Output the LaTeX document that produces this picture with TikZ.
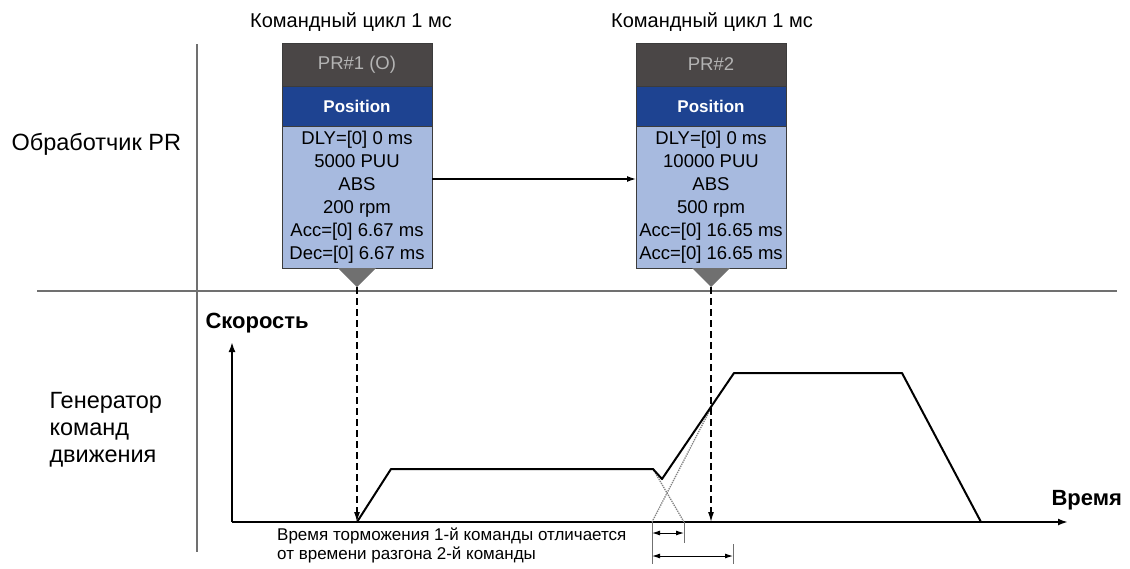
\documentclass[tikz,border=0pt]{standalone}
\usepackage{fontspec}
\setmainfont{Liberation Sans}
\usetikzlibrary{positioning,arrows.meta}
\definecolor{headgray}{HTML}{4A4646}
\definecolor{headtext}{HTML}{B4B4B4}
\definecolor{modeblue}{HTML}{1E4391}
\definecolor{bodyblue}{HTML}{A7BADF}
\definecolor{boxline}{HTML}{3C3C3C}
\definecolor{rulegray}{HTML}{707070}
\begin{document}
\begin{tikzpicture}
[
    x=1pt, y=-1pt,
    cycletext/.style={font=\fontsize{20}{22}\selectfont},
    prhead/.style={fill=headgray, draw=boxline, line width=1pt, outer sep=0pt,
        minimum width=150pt, minimum height=43pt, text=headtext,
        font=\fontsize{18.5}{20}\selectfont},
    prmode/.style={fill=modeblue, draw=boxline, line width=1pt, outer sep=0pt,
        minimum width=150pt, minimum height=40pt, text=white,
        font=\bfseries\fontsize{17}{20}\selectfont},
    prbody/.style={fill=bodyblue, draw=boxline, line width=1pt, outer sep=0pt,
        minimum width=150pt, minimum height=142pt, inner sep=0pt, align=center,
        font=\fontsize{18.5}{23}\selectfont},
    marker/.style={fill=rulegray},
    rowlabel/.style={font=\fontsize{23.5}{27}\selectfont, align=left},
    axislabel/.style={font=\bfseries\fontsize{22}{24}\selectfont},
    note/.style={font=\fontsize{17}{19}\selectfont, align=left, inner sep=0pt},
    divider/.style={draw=rulegray, line width=1.5pt},
    axis/.style={line width=2pt, -{Latex[length=10pt,width=7pt]}},
    profile/.style={line width=2pt, line join=round},
    guide/.style={line width=1.3pt, dash pattern=on 7pt off 4pt, -{Latex[length=10pt,width=6pt]}},
    flow/.style={line width=1.3pt, -{Latex[length=9pt,width=6pt]}},
    ghost/.style={draw=gray, line width=1.3pt, densely dotted},
    span/.style={line width=1pt, {Latex[length=8pt,width=5pt]}-{Latex[length=8pt,width=5pt]}},
    tick/.style={draw=rulegray, line width=1pt}
]
    \useasboundingbox (0,0) rectangle (1130,568);

    % dividers
    \draw [divider] (197,44) -- (197,552);
    \draw [divider] (37,291) -- (1117,291);

    \node [rowlabel, anchor=west] (prlabel) at (8,144) {Обработчик PR};
    \node [rowlabel, anchor=west] (genlabel) at (46,430) {Генератор\\команд\\движения};

    % PR#1
    \node [cycletext] (cycle1) at (351,22) {Командный цикл 1 мс};
    \node [prhead, anchor=north] (head1) at (357,43) {PR\#1 (O)};
    \node [prmode, below=0pt of head1] (mode1) {Position};
    \node [prbody, below=0pt of mode1] (body1)
        {DLY=[0] 0 ms\\5000 PUU\\ABS\\200 rpm\\Acc=[0] 6.67 ms\\Dec=[0] 6.67 ms};
    \fill [marker] ([xshift=-19pt]body1.south) -- ([xshift=19pt]body1.south)
        -- ([yshift=-19pt]body1.south) coordinate (tip1) -- cycle;

    % PR#2
    \node [cycletext] (cycle2) at (712,22) {Командный цикл 1 мс};
    \node [prhead, anchor=north] (head2) at (711,43) {PR\#2};
    \node [prmode, below=0pt of head2] (mode2) {Position};
    \node [prbody, below=0pt of mode2] (body2)
        {DLY=[0] 0 ms\\10000 PUU\\ABS\\500 rpm\\Acc=[0] 16.65 ms\\Acc=[0] 16.65 ms};
    \fill [marker] ([xshift=-19pt]body2.south) -- ([xshift=19pt]body2.south)
        -- ([yshift=-19pt]body2.south) coordinate (tip2) -- cycle;

    \draw [flow] ([yshift=18pt]body1.east) -- ([yshift=18pt]body2.west);

    % motion profile
    \coordinate (origin) at (232,522);
    \coordinate (vtop) at (232,342);
    \coordinate (tend) at (1068,522);
    \coordinate (start1) at (357,522);
    \coordinate (start2) at (711,522);
    \draw [axis] (origin) -- (vtop);
    \draw [axis] (origin) -- (tend);
    \node [axislabel, anchor=west] (vlabel) at (202,323) {Скорость};
    \node [axislabel, anchor=west] (tlabel) at (1048,500) {Время};

    \draw [ghost] (653,469) -- (684,522);
    \draw [ghost] (652,522) -- (712,406);
    \draw [profile] (start1) -- (391,469) -- (653,469) -- (662,479)
        -- (734,373) -- (902,373) -- (981,522);

    \draw [guide] (tip1) -- (start1);
    \draw [guide] (tip2) -- (start2);

    % time difference
    \draw [tick] (652,522) -- (652,564);
    \draw [tick] (684,522) -- (684,543);
    \draw [tick] (733,544) -- (733,564);
    \draw [span] (652,533) -- (684,533);
    \draw [span] (652,556) -- (733,556);

    \node [note, anchor=north west] (diffnote) at (277,528)
        {Время торможения 1-й команды отличается\\от времени разгона 2-й команды};
\end{tikzpicture}
\end{document}
